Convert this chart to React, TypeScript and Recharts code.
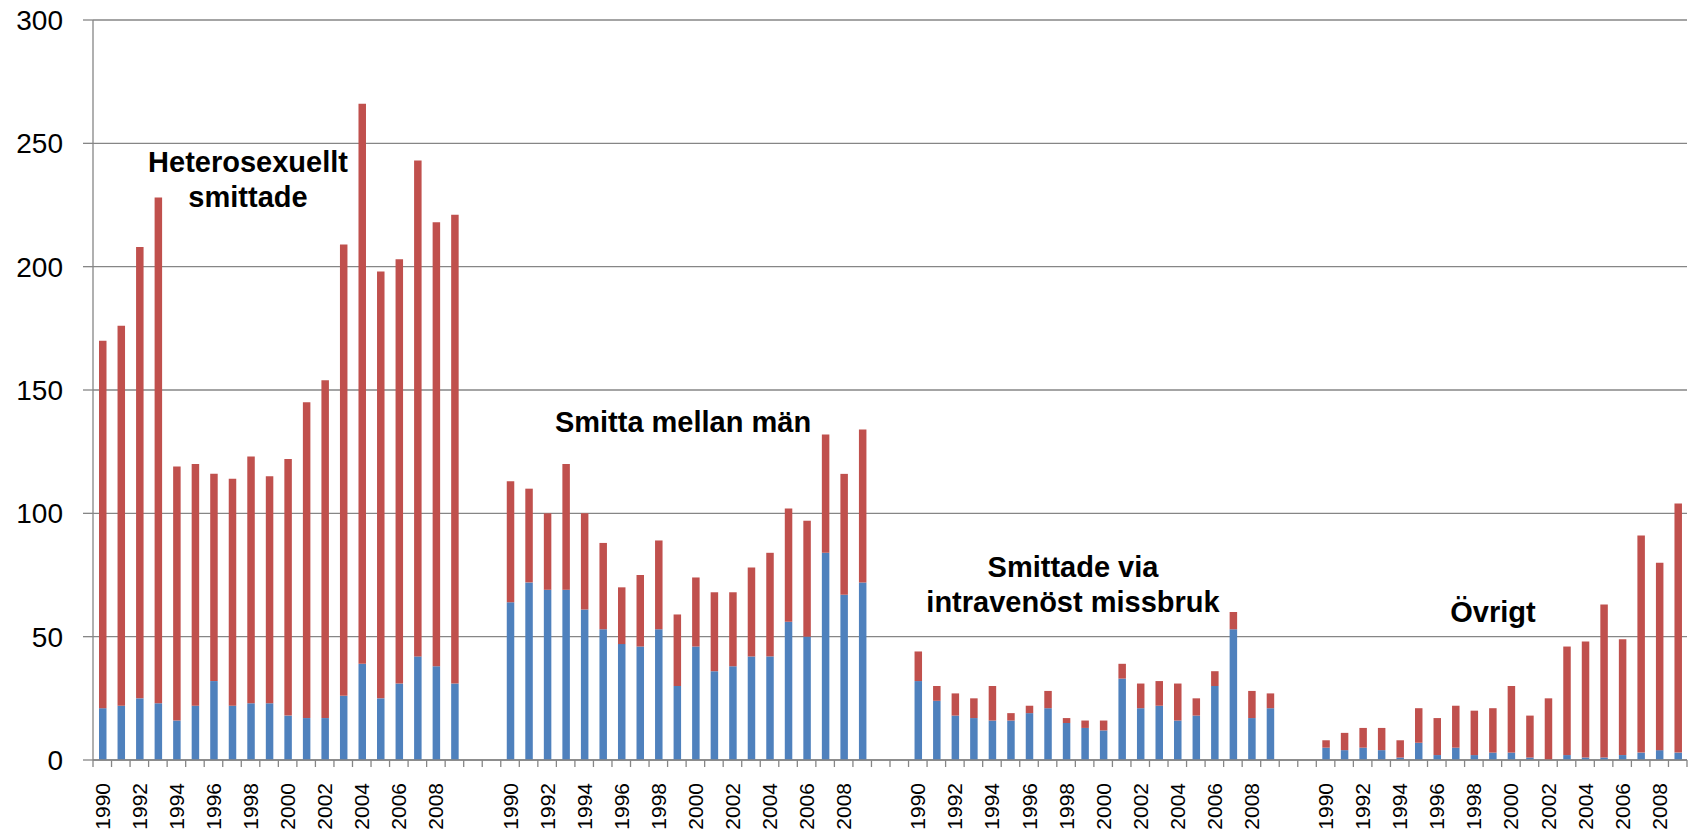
import React from "react";
import { BarChart, Bar, XAxis, YAxis, CartesianGrid } from "recharts";

// years shown per group, 1990–2009
const YEARS = [
  1990, 1991, 1992, 1993, 1994, 1995, 1996, 1997, 1998, 1999,
  2000, 2001, 2002, 2003, 2004, 2005, 2006, 2007, 2008, 2009,
];

// Heterosexuellt smittade
const heteroBlue = [21, 22, 25, 23, 16, 22, 32, 22, 23, 23, 18, 17, 17, 26, 39, 25, 31, 42, 38, 31];
const heteroRed = [149, 154, 183, 205, 103, 98, 84, 92, 100, 92, 104, 128, 137, 183, 227, 173, 172, 201, 180, 190];

// Smitta mellan män
const msmBlue = [64, 72, 69, 69, 61, 53, 47, 46, 53, 30, 46, 36, 38, 42, 42, 56, 50, 84, 67, 72];
const msmRed = [49, 38, 31, 51, 39, 35, 23, 29, 36, 29, 28, 32, 30, 36, 42, 46, 47, 48, 49, 62];

// Smittade via intravenöst missbruk
const ivBlue = [32, 24, 18, 17, 16, 16, 19, 21, 15, 13, 12, 33, 21, 22, 16, 18, 30, 53, 17, 21];
const ivRed = [12, 6, 9, 8, 14, 3, 3, 7, 2, 3, 4, 6, 10, 10, 15, 7, 6, 7, 11, 6];

// Övrigt
const otherBlue = [5, 4, 5, 4, 1, 7, 2, 5, 2, 3, 3, 1, 0, 2, 1, 1, 2, 3, 4, 3];
const otherRed = [3, 7, 8, 9, 7, 14, 15, 17, 18, 18, 27, 17, 25, 44, 47, 62, 47, 88, 76, 101];

const Y_TICKS = [0, 50, 100, 150, 200, 250, 300];

const GROUPS = [
  { id: "hetero", blue: heteroBlue, red: heteroRed },
  { id: "msm", blue: msmBlue, red: msmRed },
  { id: "iv", blue: ivBlue, red: ivRed },
  { id: "other", blue: otherBlue, red: otherRed },
];

const GAP = 2; // empty categories between groups

type Row = { key: string; label: string; blue: number | null; red: number | null };

const rows: Row[] = [];
GROUPS.forEach((g, gi) => {
  YEARS.forEach((yr, i) => {
    rows.push({
      key: `${g.id}-${yr}`,
      label: yr % 2 === 0 ? String(yr) : "",
      blue: g.blue[i],
      red: g.red[i],
    });
  });
  if (gi < GROUPS.length - 1) {
    for (let k = 0; k < GAP; k++) {
      rows.push({ key: `${g.id}-gap${k}`, label: "", blue: null, red: null });
    }
  }
});

const labelByKey: Record<string, string> = {};
rows.forEach((r) => (labelByKey[r.key] = r.label));

const AXIS_GRAY = "#868686";
const FONT = "'Liberation Sans', Arial, sans-serif";

const YearTick = (props: any) => {
  const { x, y, payload, index } = props;
  const half = payload?.offset || 9.27;
  const label = labelByKey[payload.value];
  const ty = y + 23;
  const isLast = index === rows.length - 1;
  return (
    <g>
      <line x1={x - half} y1={y} x2={x - half} y2={y + 7} stroke={AXIS_GRAY} strokeWidth={1.3} />
      {isLast && (
        <line x1={x + half} y1={y} x2={x + half} y2={y + 7} stroke={AXIS_GRAY} strokeWidth={1.3} />
      )}
      {label && (
        <text
          x={x}
          y={ty}
          dy="0.36em"
          transform={`rotate(-90 ${x} ${ty})`}
          textAnchor="end"
          fontSize={21}
          fontFamily={FONT}
          fill="#000"
        >
          {label}
        </text>
      )}
    </g>
  );
};

const annotationStyle: React.CSSProperties = {
  position: "absolute",
  width: 400,
  textAlign: "center",
  fontFamily: FONT,
  fontWeight: 700,
  fontSize: 29,
  lineHeight: "35px",
  color: "#000",
  pointerEvents: "none",
};

export default function App() {
  return (
    <div style={{ position: "relative", width: 1690, height: 832, background: "#fff" }}>
      <style>{"body{margin:0}"}</style>
      <BarChart
        width={1690}
        height={832}
        data={rows}
        margin={{ top: 20, right: 3, bottom: 0, left: 0 }}
        barSize={7.5}
      >
        <CartesianGrid vertical={false} stroke={AXIS_GRAY} strokeWidth={1.3} />
        <XAxis
          dataKey="key"
          interval={0}
          height={72}
          tickSize={0}
          tickMargin={0}
          tickLine={false}
          axisLine={{ stroke: AXIS_GRAY, strokeWidth: 1.3 }}
          tick={(p: any) => <YearTick {...p} />}
        />
        <YAxis
          width={93}
          domain={[0, 300]}
          ticks={Y_TICKS}
          interval={0}
          tickSize={10}
          tickMargin={20}
          axisLine={{ stroke: AXIS_GRAY, strokeWidth: 1.3 }}
          tickLine={{ stroke: AXIS_GRAY, strokeWidth: 1.3 }}
          tick={{ fontSize: 28, fill: "#000", fontFamily: FONT }}
        />
        <Bar dataKey="blue" stackId="a" fill="#4F81BD" isAnimationActive={false} />
        <Bar dataKey="red" stackId="a" fill="#C0504D" isAnimationActive={false} />
      </BarChart>

      <div style={{ ...annotationStyle, left: 248 - 200, top: 145 }}>
        Heterosexuellt
        <br />
        smittade
      </div>
      <div style={{ ...annotationStyle, left: 683 - 200, top: 405 }}>Smitta mellan män</div>
      <div style={{ ...annotationStyle, left: 1073 - 200, top: 550 }}>
        Smittade via
        <br />
        intravenöst missbruk
      </div>
      <div style={{ ...annotationStyle, left: 1493 - 200, top: 595 }}>Övrigt</div>
    </div>
  );
}
